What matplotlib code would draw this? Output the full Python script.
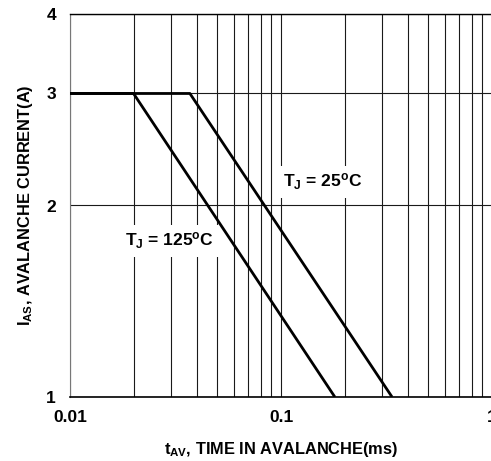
import matplotlib
matplotlib.use("Agg")
import matplotlib.pyplot as plt
from matplotlib.ticker import FixedLocator, NullFormatter, FixedFormatter

plt.rcParams['font.family'] = ['Liberation Sans', 'DejaVu Sans']
plt.rcParams['font.weight'] = 'bold'
plt.rcParams['mathtext.fontset'] = 'custom'
plt.rcParams['mathtext.rm'] = 'Liberation Sans:bold'
plt.rcParams['mathtext.bf'] = 'Liberation Sans:bold'
plt.rcParams['mathtext.it'] = 'Liberation Sans:bold'

# Data
tj25_t = [0.01, 0.037, 0.336]
tj25_i = [3.0, 3.0, 1.0]
tj125_t = [0.01, 0.02, 0.18]
tj125_i = [3.0, 3.0, 1.0]

x_major = [0.01, 0.1, 1]
x_major_labels = ['0.01', '0.1', '1']
y_ticks = [1, 2, 3, 4]
y_tick_labels = ['1', '2', '3', '4']

fig = plt.figure(figsize=(4.91, 4.61), dpi=100)
ax = fig.add_axes([70/491, 64/461, 422/491, 383/461])
ax.set_xscale('log')
ax.set_yscale('log')
ax.set_xlim(0.01, 1)
ax.set_ylim(1, 4)

# grid
ax.xaxis.set_major_locator(FixedLocator(x_major))
ax.xaxis.set_major_formatter(FixedFormatter(x_major_labels))
minor = [m * d for d in (0.01, 0.1) for m in range(2, 10)]
ax.xaxis.set_minor_locator(FixedLocator(minor))
ax.xaxis.set_minor_formatter(NullFormatter())
ax.yaxis.set_major_locator(FixedLocator(y_ticks))
ax.yaxis.set_major_formatter(FixedFormatter(y_tick_labels))
ax.yaxis.set_minor_locator(FixedLocator([]))
ax.grid(True, which='both', axis='x', color='#1a1a1a', lw=0.8)
ax.grid(True, which='major', axis='y', color='#1a1a1a', lw=0.8)
ax.tick_params(axis='both', which='both', length=0)
ax.tick_params(axis='x', labelsize=12.5, pad=9)
ax.tick_params(axis='y', labelsize=12.5, pad=10)
for lab in ax.get_xticklabels() + ax.get_yticklabels():
    lab.set_fontweight('bold')

ax.spines['left'].set_color('#777777')
ax.spines['left'].set_linewidth(0.8)
ax.spines['top'].set_linewidth(1.0)
ax.spines['bottom'].set_linewidth(1.2)
ax.spines['right'].set_visible(False)

ax.plot(tj25_t, tj25_i, color='black', lw=2.0, solid_capstyle='butt', zorder=3)
ax.plot(tj125_t, tj125_i, color='black', lw=2.0, solid_capstyle='butt', zorder=3)

bbox = dict(facecolor='white', edgecolor='none', pad=4)
ax.text(0.1022, 2.14, r'T$_\mathrm{J}$ = 25$^\mathrm{o}$C', fontsize=12.5, fontweight='bold',
        ha='left', va='baseline', bbox=bbox, zorder=4)
ax.text(0.0182, 1.727, r'T$_\mathrm{J}$ = 125$^\mathrm{o}$C', fontsize=12.5, fontweight='bold',
        ha='left', va='baseline', bbox=bbox, zorder=4)

ax.set_xlabel(r'$\mathrm{t_{AV}}$, TIME IN AVALANCHE(ms)', fontsize=11.8, fontweight='bold', labelpad=11)
ax.set_ylabel(r'$\mathrm{I_{AS}}$, AVALANCHE CURRENT(A)', fontsize=11.8, fontweight='bold', labelpad=8)

fig.savefig('out.png', dpi=100)
